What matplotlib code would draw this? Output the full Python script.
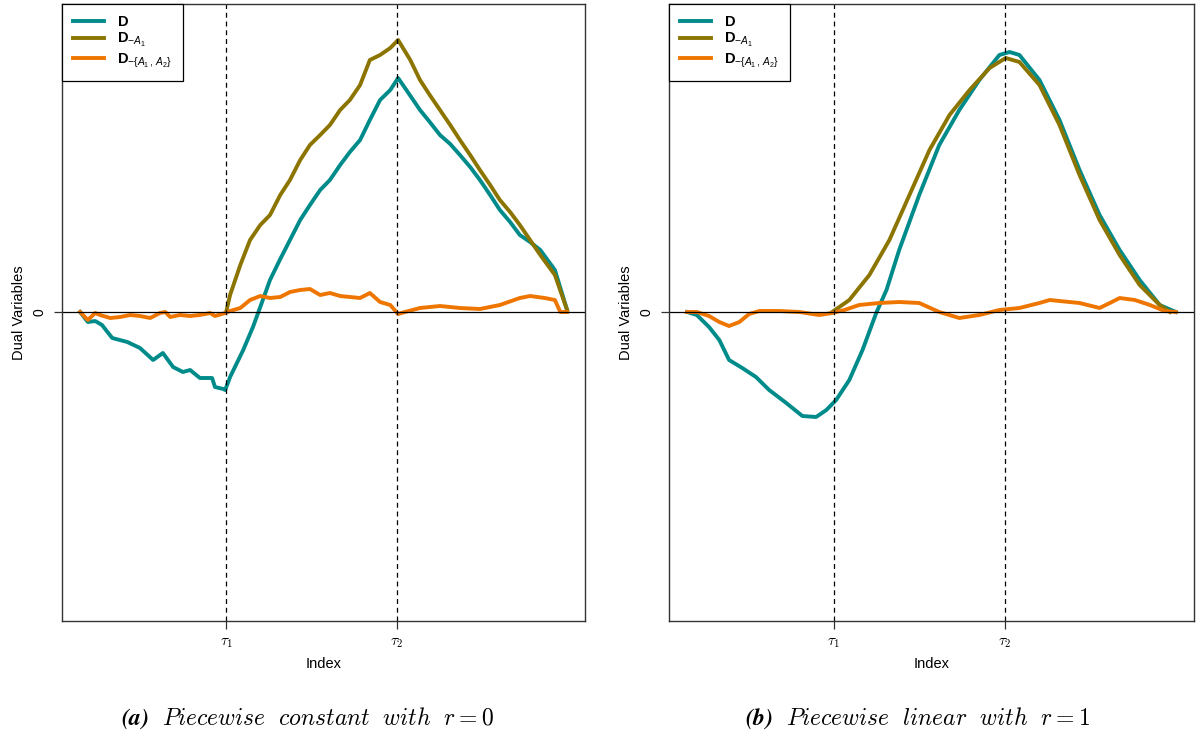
import numpy as np
import matplotlib
matplotlib.use("Agg")
import matplotlib.pyplot as plt

plt.rcParams['font.family'] = ['Liberation Sans', 'DejaVu Sans']
plt.rcParams['mathtext.fontset'] = 'custom'
plt.rcParams['mathtext.rm'] = 'Liberation Sans'
plt.rcParams['mathtext.it'] = 'Liberation Sans:italic'
plt.rcParams['mathtext.bf'] = 'Liberation Sans:bold'

# change points (index positions, 0..100)
tau = [30, 65]
tau_labels = [r'$\tau_1$', r'$\tau_2$']

# ---- panel (a): piecewise constant, r = 0 ----
a_D_x = [0, 1.6, 3.1, 4.5, 6.6, 9.7, 12.3, 15.0, 17.0, 19.1, 21.1, 22.6, 24.6, 27.1, 27.7,
         29.4, 29.8, 30.8, 33.5, 35.5, 37.0, 39.0, 41.0, 43.1, 45.2, 47.2, 49.3, 51.3, 53.4,
         55.4, 57.5, 59.5, 61.6, 63.7, 65.3, 67.0, 69.8, 71.8, 73.9, 76.0, 78.0, 80.1, 82.1,
         84.2, 86.2, 88.3, 90.3, 92.4, 94.5, 96.0, 97.5, 100]
a_D_y = [0, -10, -9, -13, -26, -30, -36, -48, -41, -55, -60, -58, -66, -66, -75,
         -77, -78, -65, -38, -15, 5, 32, 52, 72, 92, 107, 122, 132, 147,
         160, 172, 192, 212, 222, 234, 222, 202, 190, 177, 168, 157, 145, 132,
         117, 102, 90, 77, 70, 62, 52, 42, 2]

a_DA1_x = [30, 30.8, 32.9, 34.9, 37.0, 39.0, 41.1, 43.1, 45.2, 47.2, 49.3, 51.3, 53.4, 55.4,
           57.5, 59.5, 61.6, 63.7, 65.3, 67.8, 69.8, 71.8, 73.9, 76.0, 78.0, 80.1, 82.1,
           84.2, 86.2, 88.3, 90.3, 92.4, 94.5, 97.5, 100]
a_DA1_y = [0, 17, 47, 72, 87, 97, 117, 132, 152, 167, 177, 187, 202, 212,
           227, 252, 257, 264, 272, 252, 232, 217, 202, 187, 172, 157, 142,
           127, 112, 100, 87, 72, 57, 37, 2]

a_DA12_x = [0, 1.6, 3.1, 4.1, 6.2, 8.2, 10.3, 12.3, 14.4, 16.4, 17.5, 18.5, 20.5, 22.6, 24.6,
            26.7, 27.7, 29.8, 30.8, 32.9, 34.9, 37.0, 39.0, 41.1, 43.1, 45.2, 47.2, 49.3,
            51.3, 53.4, 55.4, 57.5, 59.5, 61.6, 63.7, 65.3, 66.7, 69.8, 73.9, 78.0, 82.1,
            86.2, 90.3, 92.4, 95.4, 97.5, 98.6, 100]
a_DA12_y = [0, -8, -1, -3, -6, -5, -3, -4, -6, -1, 0, -5, -3, -4, -3,
            -1, -4, -1, 1, 4, 12, 16, 14, 15, 20, 22, 23, 17,
            19, 16, 15, 14, 19, 10, 7, -2, 0, 4, 6, 4, 3,
            7, 14, 16, 14, 12, 0, 0]

# ---- panel (b): piecewise linear, r = 1 ----
b_D_x = [0, 2.0, 4.5, 6.6, 8.6, 11.3, 14.1, 16.8, 20.3, 23.6, 26.4, 28.5, 30.5, 33.2, 35.9,
         38.7, 40.8, 43.4, 47.5, 51.6, 55.7, 59.8, 63.9, 66.0, 68.0, 72.1, 76.2, 80.3,
         84.4, 88.5, 92.6, 96.7, 100]
b_D_y = [0, -3, -15, -28, -48, -56, -65, -78, -91, -104, -105, -98, -88, -68, -38,
         -1, 22, 62, 117, 167, 202, 232, 257, 260, 257, 232, 192, 142,
         97, 62, 32, 7, 0]

b_DA1_x = [29.7, 33.2, 37.3, 41.4, 45.5, 49.6, 53.7, 57.8, 61.9, 65.2, 68.0, 72.1, 76.2,
           80.3, 84.4, 88.5, 92.6, 96.7, 98.8]
b_DA1_y = [0, 12, 37, 72, 117, 162, 197, 222, 244, 254, 250, 227, 187,
           137, 92, 57, 27, 7, 0]

b_DA12_x = [0, 2.0, 4.5, 6.6, 8.6, 10.7, 12.7, 14.8, 18.9, 23.0, 27.0, 29.7, 32.2, 35.2,
            39.3, 43.4, 47.5, 51.6, 55.7, 59.8, 63.9, 68.0, 72.1, 74.2, 76.2, 80.3, 84.4,
            86.5, 88.5, 91.6, 94.7, 97.7, 100]
b_DA12_y = [0, 0, -4, -10, -14, -10, -2, 1, 1, 0, -3, -1, 2, 7,
            9, 10, 9, 0, -6, -3, 2, 4, 9, 12, 11, 9, 4,
            9, 14, 12, 7, 1, 0]

col_D = '#008B8B'
col_A1 = '#8B7500'
col_A12 = '#EE7600'
labels = [r'$\mathbf{D}$', r'$\mathbf{D}_{-A_1}$', r'$\mathbf{D}_{-\{A_1\,,\,A_2\}}$']

panels = [
    ([0.0518, 0.1608, 0.4366, 0.8338], a_D_x, a_D_y, a_DA1_x, a_DA1_y, a_DA12_x, a_DA12_y,
     r'$\mathbfit{(a)}\ \ \mathit{Piecewise\ \ constant\ \ with\ \ r = 0}$', 0.257),
    ([0.5584, 0.1608, 0.4382, 0.8338], b_D_x, b_D_y, b_DA1_x, b_DA1_y, b_DA12_x, b_DA12_y,
     r'$\mathbfit{(b)}\ \ \mathit{Piecewise\ \ linear\ \ with\ \ r = 1}$', 0.766),
]

fig = plt.figure(figsize=(11.98, 7.40), dpi=100)
for rect, dx, dy, ax1, ay1, ax2, ay2, cap, cx in panels:
    ax = fig.add_axes(rect)
    lw = 2.8
    ax.plot(dx, dy, color=col_D, lw=lw, label=labels[0], solid_joinstyle='round')
    ax.plot(ax1, ay1, color=col_A1, lw=lw, label=labels[1], solid_joinstyle='round')
    ax.plot(ax2, ay2, color=col_A12, lw=lw, label=labels[2], solid_joinstyle='round')
    ax.axhline(0, color='black', lw=0.9)
    for t in tau:
        ax.axvline(t, color='black', lw=0.9, ls=(0, (4, 3)))
    ax.set_xlim(-3.7, 103.7)
    ax.set_ylim(-309, 308)
    ax.set_xticks(tau)
    ax.set_xticklabels(tau_labels, fontsize=11, math_fontfamily='cm')
    ax.set_yticks([0])
    ax.set_yticklabels(['0'], rotation=90, va='center', fontsize=10)
    ax.tick_params(length=6, width=0.9, color='#333333', pad=5)
    for s in ax.spines.values():
        s.set_color('#333333')
        s.set_linewidth(1.0)
    ax.set_xlabel('Index', fontsize=10.5, labelpad=5)
    ax.set_ylabel('Dual Variables', fontsize=10.5, labelpad=5)
    leg = ax.legend(loc='upper left', borderaxespad=0, fancybox=False, framealpha=1,
                    edgecolor='black', fontsize=10.5, handlelength=2.1, handletextpad=0.9,
                    labelspacing=0.15, borderpad=0.75)
    leg.get_frame().set_linewidth(0.9)
    fig.text(cx, 0.03, cap, ha='center', va='center', fontsize=17, math_fontfamily='cm')

fig.savefig('out.png', dpi=100)
